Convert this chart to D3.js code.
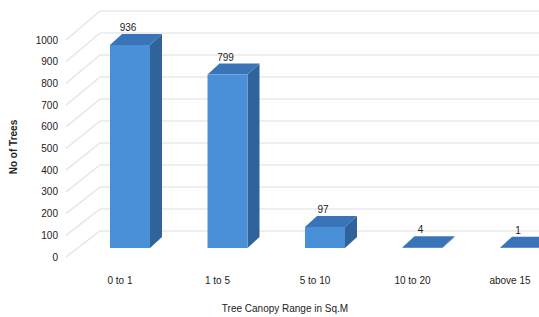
<!DOCTYPE html>
<html>
<head>
<meta charset="utf-8">
<script src="https://cdn.jsdelivr.net/npm/d3@7"></script>
<style>
  body { margin: 0; background: #fff; }
  text { font-family: "Liberation Sans", "DejaVu Sans", sans-serif; fill: #222; }
</style>
</head>
<body>
<svg width="539" height="317"></svg>
<script>
const categories = ["0 to 1", "1 to 5", "5 to 10", "10 to 20", "above 15"];
const counts = [936, 799, 97, 4, 1];
const yTicks = [0, 100, 200, 300, 400, 500, 600, 700, 800, 900, 1000];

const svg = d3.select("svg");

// front plane (tick labels), back wall and bar baselines
const yTick = d3.scaleLinear().domain([0, 1000]).range([257, 40]);
const yBack = d3.scaleLinear().domain([0, 1000]).range([231, 11]);
const yBar = d3.scaleLinear().domain([0, 1000]).range([248, 31]);
const x = d3.scalePoint().domain(categories).range([120, 510]);

const barW = 40, dx = 12, dy = 11;

// side wall diagonals
svg.append("g")
  .selectAll("line")
  .data(yTicks)
  .enter()
  .append("line")
  .attr("x1", 66)
  .attr("y1", d => yTick(d))
  .attr("x2", 100)
  .attr("y2", d => yBack(d))
  .style("stroke", "#e6e6e6")
  .style("stroke-width", 1.5);

// back wall gridlines
svg.append("g")
  .selectAll("line")
  .data(yTicks)
  .enter()
  .append("line")
  .attr("x1", 100)
  .attr("x2", 539)
  .attr("y1", d => yBack(d))
  .attr("y2", d => yBack(d))
  .style("stroke", "#e8e8e8")
  .style("stroke-width", 1.5);

// tick labels
svg.append("g")
  .selectAll("text")
  .data(yTicks)
  .enter()
  .append("text")
  .attr("x", 58)
  .attr("y", d => yTick(d) + 3.5)
  .attr("text-anchor", "end")
  .style("font-size", "10px")
  .text(d => d);

// bars
const bars = svg.append("g")
  .selectAll("g")
  .data(categories.map((c, i) => ({ c: c, v: counts[i] })))
  .enter()
  .append("g");

bars.append("path") // side
  .attr("d", d => {
    const x1 = x(d.c) - 10 + barW, yt = yBar(d.v), yb = yBar(0);
    return `M${x1},${yt}L${x1 + dx},${yt - dy}L${x1 + dx},${yb - dy}L${x1},${yb}Z`;
  })
  .style("fill", "#2f6399");

bars.append("rect") // front
  .attr("x", d => x(d.c) - 10)
  .attr("y", d => yBar(d.v))
  .attr("width", barW)
  .attr("height", d => yBar(0) - yBar(d.v))
  .style("fill", "#4a90d9");

bars.append("path") // top
  .attr("d", d => {
    const x0 = x(d.c) - 10, yt = yBar(d.v);
    return `M${x0},${yt}L${x0 + dx},${yt - dy}L${x0 + barW + dx},${yt - dy}L${x0 + barW},${yt}Z`;
  })
  .style("fill", "#3a74b8");

// value labels
bars.append("text")
  .attr("x", d => x(d.c) + 8)
  .attr("y", d => yBar(d.v) - 14)
  .attr("text-anchor", "middle")
  .style("font-size", "10px")
  .text(d => d.v);

// category labels
svg.append("g")
  .selectAll("text")
  .data(categories)
  .enter()
  .append("text")
  .attr("x", d => x(d))
  .attr("y", 284)
  .attr("text-anchor", "middle")
  .style("font-size", "10px")
  .text(d => d);

// axis titles
svg.append("text")
  .attr("x", 285)
  .attr("y", 312)
  .attr("text-anchor", "middle")
  .style("font-size", "10px")
  .text("Tree Canopy Range in Sq.M");

svg.append("text")
  .attr("transform", "translate(17,147) rotate(-90)")
  .attr("text-anchor", "middle")
  .style("font-size", "10px")
  .style("font-weight", "bold")
  .text("No of Trees");
</script>
</body>
</html>
